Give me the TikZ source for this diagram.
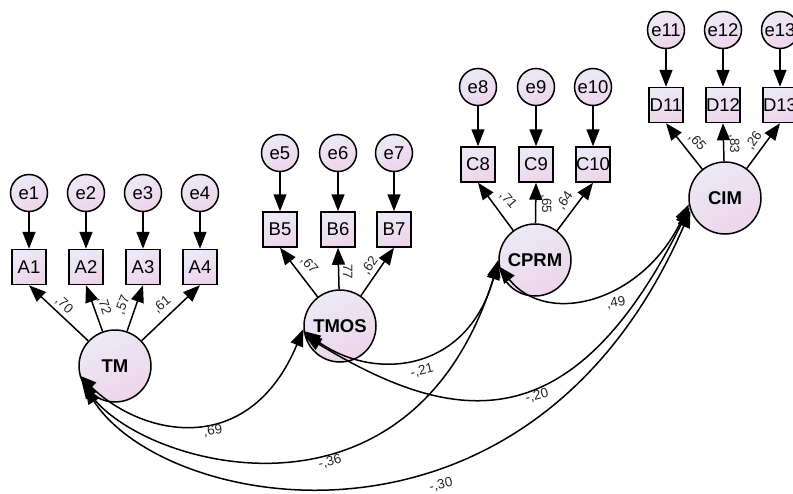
\documentclass[tikz,border=0pt]{standalone}
\usepackage{fontspec}
\setmainfont{Liberation Sans}
\usetikzlibrary{arrows.meta}
\definecolor{shadeA}{RGB}{234,234,247}
\definecolor{shadeB}{RGB}{238,212,234}

\tikzset{
  base/.style={draw=black, line width=1.5pt, inner sep=0pt,
    top color=shadeA, bottom color=shadeB, shading angle=25},
  errvar/.style={base, circle, minimum size=37pt,
    font=\fontsize{18.5}{20}\selectfont},
  obsvar/.style={base, rectangle, minimum width=34pt, minimum height=35pt,
    font=\fontsize{18.5}{20}\selectfont},
  latvar/.style={base, circle, minimum size=72pt,
    font=\fontsize{18.5}{20}\selectfont\bfseries},
  arr/.style={line width=1.5pt, -{Triangle[length=17pt,width=13pt]}},
  cov/.style={line width=1.5pt,
    {Triangle[length=17pt,width=13pt]}-{Triangle[length=17pt,width=13pt]}},
  coef/.style={font=\fontsize{13.5}{14}\selectfont, inner sep=0pt, text=black!85}
}

\begin{document}
\begin{tikzpicture}[x=1pt, y=-1pt]
\useasboundingbox (0,0) rectangle (793,493);
\clip (0,0) rectangle (793,493);

% ---- factor TM ----
\foreach \i/\x in {1/29, 2/86, 3/143, 4/200} {
  \node[errvar] (e\i) at (\x,193) {e\i};
  \node[obsvar] (A\i) at (\x,267) {A\i};
}
\node[latvar] (TM) at (115,366) {TM};

% ---- factor TMOS ----
\foreach \i/\x in {5/280, 6/338, 7/394} {
  \node[errvar] (e\i) at (\x,153) {e\i};
  \node[obsvar] (B\i) at (\x,229.5) {B\i};
}
\node[latvar] (TMOS) at (340,326) {TMOS};

% ---- factor CPRM ----
\foreach \i/\x in {8/478, 9/536, 10/593} {
  \node[errvar] (e\i) at (\x,87) {e\i};
  \node[obsvar] (C\i) at (\x,164.5) {C\i};
}
\node[latvar] (CPRM) at (535,260) {CPRM};

% ---- factor CIM ----
\foreach \i/\x in {11/666, 12/723, 13/780} {
  \node[errvar] (e\i) at (\x,30) {e\i};
  \node[obsvar] (D\i) at (\x,105) {D\i};
}
\node[latvar] (CIM) at (725,198) {CIM};

% ---- error terms ----
\foreach \i in {1,2,3,4} \draw[arr] (e\i) -- (A\i);
\foreach \i in {5,6,7} \draw[arr] (e\i) -- (B\i);
\foreach \i in {8,9,10} \draw[arr] (e\i) -- (C\i);
\foreach \i in {11,12,13} \draw[arr] (e\i) -- (D\i);

% ---- loadings ----
\foreach \i in {1,2,3,4} \draw[arr] (TM) -- (A\i.south);
\foreach \i in {5,6,7} \draw[arr] (TMOS) -- (B\i.south);
\foreach \i in {8,9,10} \draw[arr] (CPRM) -- (C\i.south);
\foreach \i in {11,12,13} \draw[arr] (CIM) -- (D\i.south);

\node[coef, rotate=-43] (la1) at (64,305) {,70};
\node[coef, rotate=-73] (la2) at (104,306) {,72};
\node[coef, rotate=68]  (la3) at (123,305) {,57};
\node[coef, rotate=40]  (la4) at (162,305) {,61};

\node[coef, rotate=-50] (lb5) at (309,265) {,67};
\node[coef, rotate=-90] (lb6) at (347,270) {,77};
\node[coef, rotate=55]  (lb7) at (370,266) {,62};

\node[coef, rotate=-50] (lc8) at (508,200) {,71};
\node[coef, rotate=-90] (lc9) at (546,204) {,65};
\node[coef, rotate=55]  (lc10) at (565,201) {,64};

\node[coef, rotate=-50] (ld11) at (697,142) {,65};
\node[coef, rotate=-90] (ld12) at (734,144) {,83};
\node[coef, rotate=55]  (ld13) at (754,141) {,26};

% ---- covariances ----
\draw[cov] (TM.195) .. controls (143,437) and (249,459) .. (TMOS.185);
\draw[cov] (TM.205) .. controls (140,465) and (410,545) .. (CPRM.184);
\draw[cov] (TM.215) .. controls (165,512) and (530,580) .. (CIM.200);
\draw[cov] (TMOS.188) .. controls (375,383) and (469,372) .. (CPRM.180);
\draw[cov] (TMOS.195) .. controls (457,428) and (573,442) .. (CIM.195);
\draw[cov] (CPRM.190) .. controls (548,328) and (644,301) .. (CIM.190);

\node[coef, rotate=8]  (c1) at (213,431) {,69};
\node[coef, rotate=14] (c2) at (330,462) {-,36};
\node[coef, rotate=12] (c3) at (441,485) {-,30};
\node[coef, rotate=14] (c4) at (422,371) {-,21};
\node[coef, rotate=14] (c5) at (537,396) {-,20};
\node[coef, rotate=10] (c6) at (616,303) {,49};
\end{tikzpicture}
\end{document}
